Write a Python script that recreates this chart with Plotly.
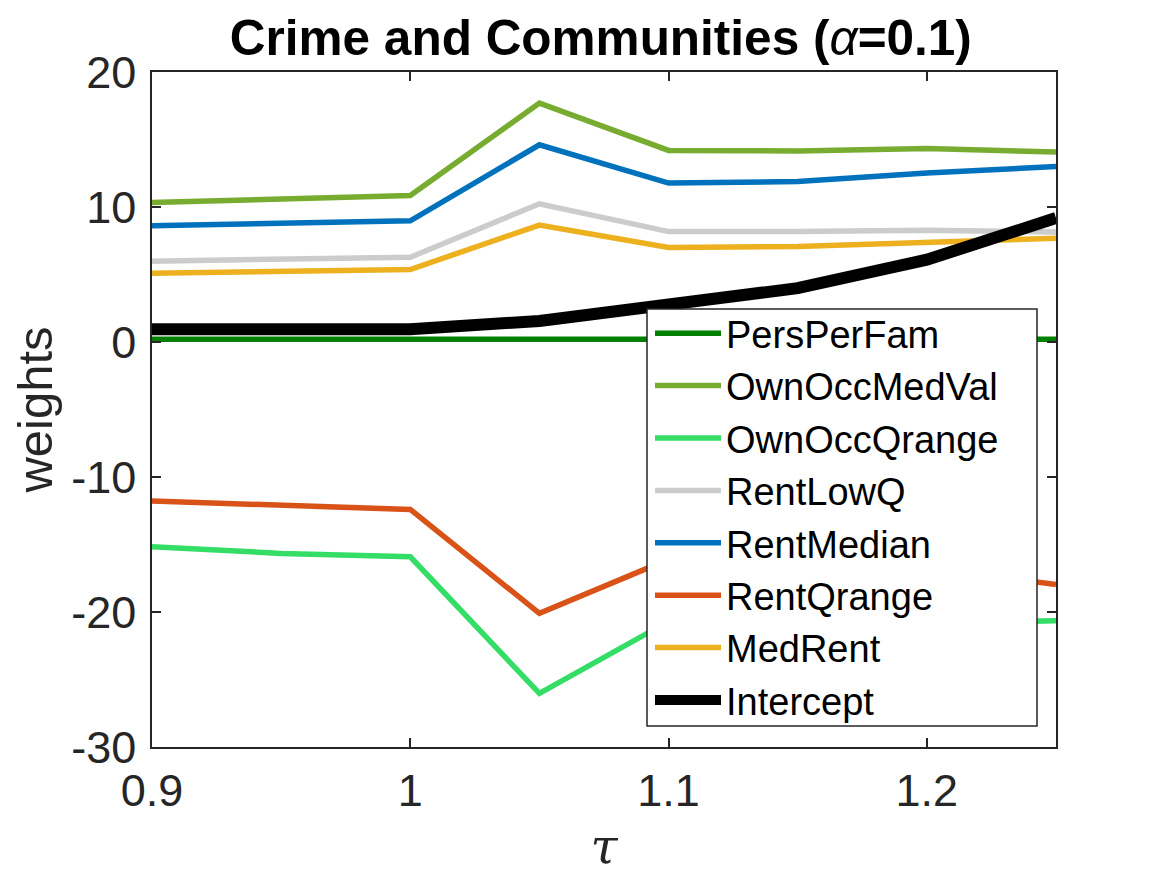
import plotly.graph_objects as go

tau = [0.9, 0.95, 1.0, 1.05, 1.1, 1.15, 1.2, 1.25]

PersPerFam = [0.2, 0.2, 0.2, 0.2, 0.2, 0.2, 0.2, 0.2]
OwnOccMedVal = [10.33, 10.62, 10.85, 17.70, 14.19, 14.15, 14.33, 14.07]
OwnOccQrange = [-15.17, -15.66, -15.91, -26.03, -20.7, -20.8, -20.8, -20.65]
RentLowQ = [5.99, 6.14, 6.28, 10.24, 8.18, 8.18, 8.28, 8.14]
RentMedian = [8.61, 8.80, 8.98, 14.61, 11.77, 11.89, 12.52, 13.0]
RentQrange = [-11.78, -12.13, -12.40, -20.1, -16.1, -16.2, -16.7, -17.96]
MedRent = [5.10, 5.24, 5.37, 8.66, 7.0, 7.07, 7.35, 7.69]
Intercept = [0.95, 0.95, 0.95, 1.56, 2.70, 3.99, 6.1, 9.18]

series_names = ["PersPerFam", "OwnOccMedVal", "OwnOccQrange", "RentLowQ",
                "RentMedian", "RentQrange", "MedRent", "Intercept"]
series_values = [PersPerFam, OwnOccMedVal, OwnOccQrange, RentLowQ,
                 RentMedian, RentQrange, MedRent, Intercept]
colors = ["#008000", "#77AC30", "#33DD66", "#CCCCCC",
          "#0072BD", "#D95319", "#EDB120", "#000000"]
widths = [5.5, 5.5, 5.5, 5.5, 5.5, 5.5, 5.5, 12]

xticks = [0.9, 1.0, 1.1, 1.2]
xticklabels = ["0.9", "1", "1.1", "1.2"]
yticks = [20, 10, 0, -10, -20, -30]
yticklabels = ["20", "10", "0", "-10", "-20", "-30"]

FONT = "Liberation Sans, Arial, Helvetica, sans-serif"
AX = "#262626"

fig = go.Figure()
for name, vals, c, w in zip(series_names, series_values, colors, widths):
    fig.add_trace(go.Scatter(x=tau, y=vals, mode="lines", name=name,
                             line=dict(color=c, width=w)))

# plot area in page pixels: x 152..1056, y 72..747
PX0, PX1, PY0, PY1 = 152, 1056, 72, 747
def px(x):
    return (x - PX0) / (PX1 - PX0)
def py(y):
    return 1 - (y - PY0) / (PY1 - PY0)

# legend frame (white box drawn above the lines, legend text on top of it)
fig.add_shape(type="rect", xref="paper", yref="paper", layer="above",
              x0=px(647), x1=px(1037), y0=py(726), y1=py(309),
              fillcolor="white", line=dict(color=AX, width=1.5))

W, H = 1159, 867
fig.update_layout(
    width=W, height=H,
    paper_bgcolor="white", plot_bgcolor="white",
    margin=dict(l=144, r=111, t=64, b=128),
    font=dict(family=FONT, size=45, color=AX),
    title=dict(text="<b>Crime and Communities (</b><i>α</i><b>=0.1)</b>",
               x=0.5115, xanchor="center", yref="container", y=0.966, yanchor="middle",
               font=dict(family=FONT, size=49.5, color="black")),
    showlegend=True,
    legend=dict(x=px(650), y=py(302), xanchor="left", yanchor="top",
                bgcolor="rgba(0,0,0,0)", borderwidth=0,
                font=dict(family=FONT, size=38, color="black"),
                tracegroupgap=0, itemwidth=66),
)
fig.update_xaxes(range=[0.9, 1.25], tickvals=xticks, ticktext=xticklabels,
                 ticks="inside", ticklen=9, tickcolor=AX, tickwidth=1.5,
                 showline=True, linecolor=AX, linewidth=1.5, mirror="allticks",
                 showgrid=False, zeroline=False, ticklabelstandoff=3,
                 automargin=False,
                 tickfont=dict(size=45, color=AX),
                 title=dict(text="<i>τ</i>", standoff=18,
                            font=dict(family="DejaVu Serif, serif", size=49, color=AX)))
fig.update_yaxes(range=[-30, 20], tickvals=yticks, ticktext=yticklabels,
                 ticks="inside", ticklen=9, tickcolor=AX, tickwidth=1.5,
                 showline=True, linecolor=AX, linewidth=1.5, mirror="allticks",
                 showgrid=False, zeroline=False, ticklabelstandoff=5,
                 automargin=False,
                 tickfont=dict(size=45, color=AX),
                 title=dict(text="weights", standoff=14,
                            font=dict(family=FONT, size=49, color=AX)))

fig.write_html("out.html")
